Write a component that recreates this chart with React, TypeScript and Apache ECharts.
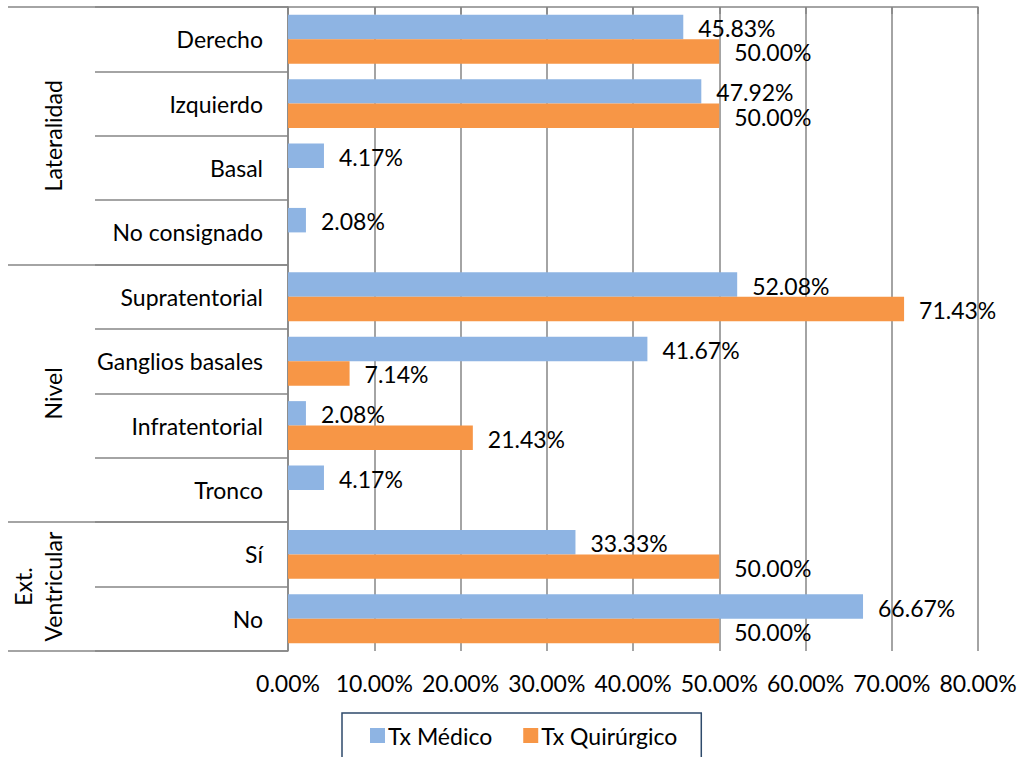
import React, { useEffect, useRef } from 'react';
import * as echarts from 'echarts';

const categories = ['Derecho', 'Izquierdo', 'Basal', 'No consignado', 'Supratentorial', 'Ganglios basales', 'Infratentorial', 'Tronco', 'Sí', 'No'];
const medico = [45.83, 47.92, 4.17, 2.08, 52.08, 41.67, 2.08, 4.17, 33.33, 66.67];
const quirurgico: (number | null)[] = [50.0, 50.0, null, null, 71.43, 7.14, 21.43, null, 50.0, 50.0];
const seriesNames = ['Tx Médico', 'Tx Quirúrgico'];
const groupNames = ['Lateralidad', 'Nivel', 'Ext.\nVentricular'];
const groupSizes = [4, 4, 2];
const xMin = 0;
const xMax = 80;
const xInterval = 10;

const FONT = 'Lato';
const FS = 23;
const GRAY = '#868686';

export default function App() {
  const ref = useRef<HTMLDivElement>(null);
  useEffect(() => {
    if (!ref.current) return;
    const chart = echarts.init(ref.current, undefined, { renderer: 'svg' });
    const bounds: number[] = [0];
    groupSizes.forEach((s) => bounds.push(bounds[bounds.length - 1] + s));
    const centers = groupSizes.map((s, i) => bounds[i] + s / 2);
    const fmt = (v: any) => (v == null ? '' : Number(v).toFixed(2) + '%');
    const label = {
      show: true,
      position: 'right' as const,
      distance: 15,
      offset: [0, 1],
      fontFamily: FONT,
      fontSize: FS,
      color: '#000',
      formatter: (p: any) => fmt(p.value),
    };
    chart.setOption({
      animation: false,
      textStyle: { fontFamily: FONT },
      grid: { left: 288, right: 42, top: 7, bottom: 106 },
      legend: {
        left: 342,
        top: 713,
        padding: [11, 24, 11, 28],
        itemGap: 31,
        itemWidth: 15,
        itemHeight: 15,
        icon: 'rect',
        borderColor: '#2E4A6B',
        borderWidth: 1.5,
        textStyle: { fontFamily: FONT, fontSize: FS, color: '#000', padding: [0, 0, 0, -2] },
        data: seriesNames,
      },
      xAxis: {
        type: 'value',
        min: xMin,
        max: xMax,
        interval: xInterval,
        axisLine: { show: true, lineStyle: { color: GRAY, width: 1.5 } },
        axisTick: { show: true, length: 7, lineStyle: { color: GRAY, width: 1.5 } },
        splitLine: { show: true, lineStyle: { color: GRAY, width: 1.5 } },
        axisLabel: { fontFamily: FONT, fontSize: FS, color: '#000', margin: 20, formatter: (v: number) => fmt(v) },
      },
      yAxis: [
        {
          type: 'category',
          data: categories,
          inverse: true,
          axisLine: { show: true, lineStyle: { color: GRAY, width: 1.5 } },
          axisTick: { show: true, length: 193, lineStyle: { color: GRAY, width: 1.5 } },
          axisLabel: { fontFamily: FONT, fontSize: FS, color: '#000', margin: 25, padding: [0, 0, 3, 0] },
          splitLine: { show: false },
        },
        {
          type: 'value',
          min: 0,
          max: bounds[bounds.length - 1],
          inverse: true,
          position: 'left',
          axisLine: { show: false },
          splitLine: { show: false },
          axisTick: { show: true, length: 280, customValues: bounds, lineStyle: { color: GRAY, width: 1.5 } },
          axisLabel: {
            show: true,
            customValues: centers,
            rotate: 90,
            margin: 220,
            fontFamily: FONT,
            fontSize: FS,
            lineHeight: 30,
            color: '#000',
            formatter: (v: number) => {
              const i = centers.indexOf(v);
              return i >= 0 ? groupNames[i] : '';
            },
          },
        },
      ],
      series: [
        {
          name: seriesNames[0],
          type: 'bar',
          yAxisIndex: 0,
          data: medico,
          barCategoryGap: '24%',
          barGap: '0%',
          itemStyle: { color: '#8EB4E3' },
          label,
        },
        {
          name: seriesNames[1],
          type: 'bar',
          yAxisIndex: 0,
          data: quirurgico,
          barCategoryGap: '24%',
          barGap: '0%',
          itemStyle: { color: '#F79646' },
          label,
        },
      ],
    });
    return () => chart.dispose();
  }, []);
  return (
    <div
      ref={ref}
      style={{ position: 'fixed', left: 0, top: 0, width: 1020, height: 757, background: '#fff' }}
    />
  );
}
